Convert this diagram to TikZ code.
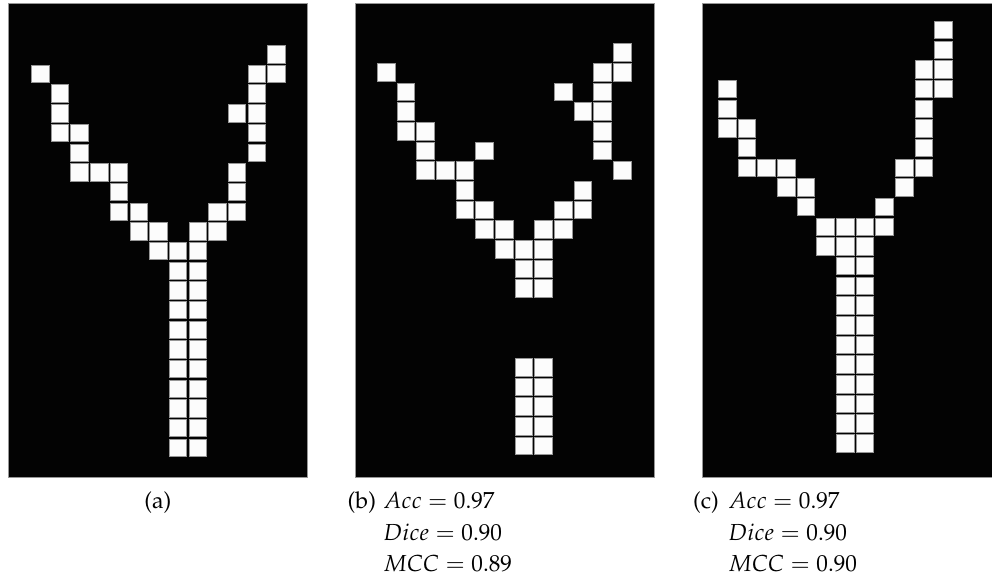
\documentclass[tikz,border=0pt]{standalone}
\usepackage[T1]{fontenc}
\usepackage{mathpazo}
\usetikzlibrary{calc}
\definecolor{maskbg}{RGB}{3,3,3}
\definecolor{maskfg}{RGB}{252,252,252}
\definecolor{maskedge}{RGB}{150,150,150}
\newcommand{\pixels}[2]{%
  % #1 = centre of cell (0,0), #2 = list of row/{columns}
  \begin{scope}[shift=(#1)]
    \foreach \r/\cols in {#2}
      \foreach \c in \cols
        \draw[pix] (\c*19.67-8.8, \r*19.67-8.8) rectangle ++(17.6,17.6);
  \end{scope}
}

\begin{document}
\begin{tikzpicture}[x=0.5pt, y=-0.5pt,
  frame/.style={draw=maskedge, fill=maskbg, line width=0.4pt},
  pix/.style={draw=maskedge, fill=maskfg, line width=0.35pt},
  subcap/.style={font=\fontsize{11.6}{15.75}\selectfont, inner sep=0pt}]
\useasboundingbox (0,0) rectangle (992,579);

% ============ PANEL (a): ground truth ============
\draw[frame] (8.3,3) rectangle (307.3,477.5);
\coordinate (Aorg) at (40.3,54.3);
\pixels{Aorg}{0/{12},1/{0,11,12},2/{1,11},3/{1,10,11},4/{1,2,11},5/{2,11},
  6/{2,3,4,10},7/{4,10},8/{4,5,9,10},9/{5,6,8,9},10/{6,7,8}}
\pixels{Aorg}{11/{7,8},12/{7,8},13/{7,8},14/{7,8},15/{7,8},16/{7,8},
  17/{7,8},18/{7,8},19/{7,8},20/{7,8}}
\node[subcap, anchor=base] (capa) at (157.8,508.8) {(a)};

% ============ PANEL (b): broken trunk ============
\draw[frame] (355.7,3.5) rectangle (654.3,477.7);
\coordinate (Borg) at (386.2,52.5);
\pixels{Borg}{0/{12},1/{0,11,12},2/{1,9,11},3/{1,10,11},4/{1,2,11},5/{2,5,11},
  6/{2,3,4,12},7/{4,10},8/{4,5,9,10},9/{5,6,8,9},10/{6,7,8},11/{7,8},12/{7,8}}
\pixels{Borg}{16/{7,8},17/{7,8},18/{7,8},19/{7,8},20/{7,8}}
\node[subcap, anchor=base west] (capb) at (347.3,508.8) {(b)};
\node[subcap, anchor=base west] (metb) at (382.8,508.8)
  {\begin{tabular}[t]{@{}l@{}}$Acc = 0.97$\\ $Dice = 0.90$\\ $MCC = 0.89$\end{tabular}};

% ============ PANEL (c): shifted shape (cut by the page edge) ============
\draw[frame] (702.7,3.5) rectangle (1001.7,477.7);
\coordinate (Corg) at (727.2,30);
\pixels{Corg}{0/{11},1/{11},2/{10,11},3/{0,10,11},4/{0,10},5/{0,1,10},6/{1,10},
  7/{1,2,3,9,10},8/{3,4,9},9/{4,8},10/{5,6,7,8},11/{5,6,7}}
\pixels{Corg}{12/{6,7},13/{6,7},14/{6,7},15/{6,7},16/{6,7},17/{6,7},
  18/{6,7},19/{6,7},20/{6,7},21/{6,7}}
\node[subcap, anchor=base west] (capc) at (692.7,508.8) {(c)};
\node[subcap, anchor=base west] (metc) at (727.8,508.8)
  {\begin{tabular}[t]{@{}l@{}}$Acc = 0.97$\\ $Dice = 0.90$\\ $MCC = 0.90$\end{tabular}};
\end{tikzpicture}
\end{document}
